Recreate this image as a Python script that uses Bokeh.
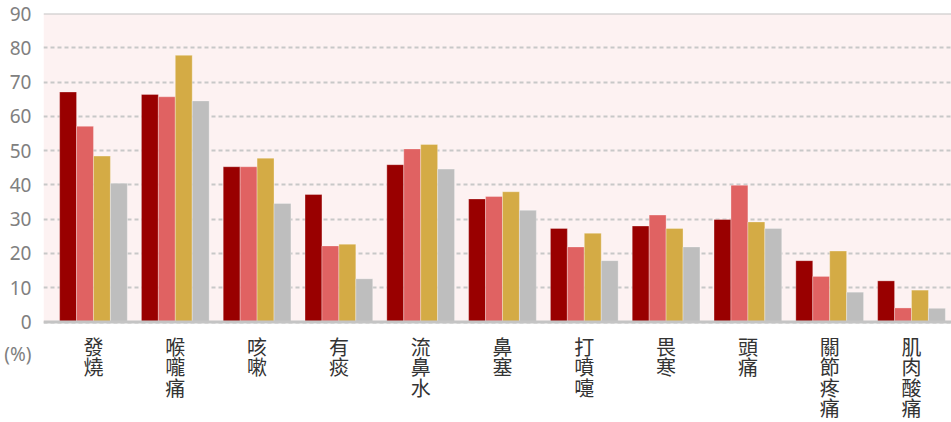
from bokeh.plotting import figure
from bokeh.models import FixedTicker, Span, BoxAnnotation, ColumnDataSource, Range1d
from bokeh.transform import dodge
from bokeh.core.properties import value
from bokeh.embed import file_html
from bokeh.resources import INLINE

categories = ["發燒", "喉嚨痛", "咳嗽", "有痰", "流鼻水", "鼻塞", "打噴嚏", "畏寒", "頭痛", "關節疼痛", "肌肉酸痛"]
series_a = [67.1, 66.4, 45.3, 37.2, 45.9, 35.9, 27.3, 28.0, 29.9, 17.9, 12.0]
series_b = [57.1, 65.7, 45.3, 22.2, 50.5, 36.6, 21.9, 31.2, 39.9, 13.3, 4.1]
series_c = [48.4, 77.8, 47.8, 22.7, 51.8, 38.0, 25.9, 27.3, 29.2, 20.7, 9.3]
series_d = [40.5, 64.5, 34.6, 12.6, 44.6, 32.6, 17.9, 21.9, 27.3, 8.7, 4.0]
y_ticks = [0, 10, 20, 30, 40, 50, 60, 70, 80, 90]
unit_label = "(%)"

colors = ["#990000", "#e06262", "#d4ab45", "#bebebe"]
keys = ["a", "b", "c", "d"]

# layout geometry (pixels)
W, H = 951, 422
frame_top = 13         # y of the 90 line
zero_px = 321.5        # y of the 0 line
px_per_unit = (zero_px - frame_top) / 90.0
y_min = -(H - zero_px) / px_per_unit
unit_pos = -31.5 / px_per_unit          # "(%)" sits ~31px below the 0 tick
label_first = 24.0                      # px from 0 line to first character centre
label_pitch = 20.5                      # px between stacked characters

xs = list(range(len(categories)))
src = ColumnDataSource(dict(x=xs, a=series_a, b=series_b, c=series_c, d=series_d))

# stacked category characters
lx, ly, lt = [], [], []
for i, cat in enumerate(categories):
    for k, ch in enumerate(cat):
        lx.append(i)
        ly.append(-(label_first + k * label_pitch) / px_per_unit)
        lt.append(ch)
lsrc = ColumnDataSource(dict(x=lx, y=ly, t=lt))

p = figure(width=W, height=H, output_backend="svg", toolbar_location=None,
           x_range=Range1d(-0.611, 10.489), y_range=Range1d(y_min, 90),
           x_axis_location=None,
           min_border_left=43, min_border_right=0, min_border_top=frame_top, min_border_bottom=0)
p.background_fill_color = "white"
p.border_fill_color = "white"
p.outline_line_color = None

p.add_layout(BoxAnnotation(bottom=0, top=90, fill_color="#fdf2f2", fill_alpha=1.0,
                           line_color=None, level="image"))

bw = 0.207
offsets = [-1.5 * bw, -0.5 * bw, 0.5 * bw, 1.5 * bw]
for key, col, off in zip(keys, colors, offsets):
    p.vbar(x=dodge("x", off), top=key, bottom=0, width=bw, source=src, fill_color=col,
           line_color="white", line_alpha=0.3, line_width=1)

p.xgrid.visible = False
p.ygrid.ticker = FixedTicker(ticks=y_ticks)
p.ygrid.grid_line_color = "#c8c8c8"
p.ygrid.grid_line_width = 2
p.ygrid.grid_line_dash = "4 3"

p.add_layout(Span(location=90, dimension="width", line_color="#c4c4c4", line_width=2))
p.add_layout(Span(location=0, dimension="width", line_color="#c4c4c4", line_width=3))

ya = p.yaxis[0]
ya.ticker = FixedTicker(ticks=y_ticks + [unit_pos])
ya.major_label_overrides = {unit_pos: unit_label}
ya.axis_line_color = None
ya.major_tick_line_color = None
ya.minor_tick_line_color = None
ya.major_tick_out = 0
ya.major_tick_in = 0
ya.minor_tick_out = 0
ya.minor_tick_in = 0
ya.major_label_text_color = "#808080"
ya.major_label_text_font = "Noto Sans"
ya.major_label_text_font_size = "19px"
ya.major_label_standoff = 12

p.text(x="x", y="y", text="t", source=lsrc, text_align="center", text_baseline="middle",
       text_color="#333333", text_font=value("Noto Sans CJK TC"), text_font_size="20px")

open("out.html", "w").write(file_html(p, INLINE))
